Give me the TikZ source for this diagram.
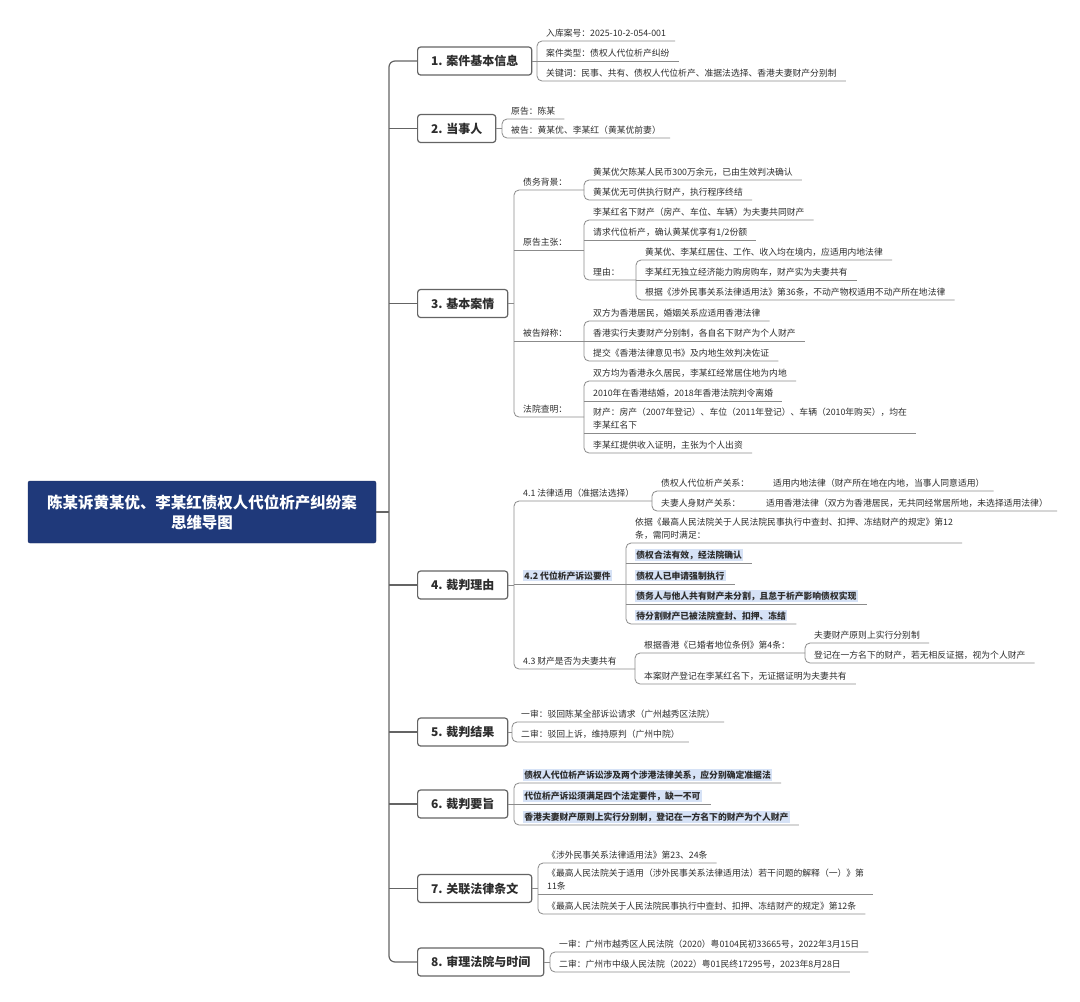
\documentclass[tikz,border=0pt]{standalone}
\usepackage{fontspec}
\setmainfont{Noto Sans CJK SC}
\usetikzlibrary{calc}
\definecolor{rootc}{RGB}{31,57,122}
\definecolor{linec}{RGB}{100,100,100}
\definecolor{txtc}{RGB}{45,45,45}
\definecolor{hlc}{RGB}{214,226,246}
\newcommand{\hl}[1]{{\setlength{\fboxsep}{1.2pt}\colorbox{hlc}{\bfseries #1}}}
\tikzset{root/.style={draw=rootc!80!black,fill=rootc,rounded corners=2pt,text=white,align=center,minimum width=348pt,minimum height=62pt,font=\fontsize{15.5}{20}\selectfont\bfseries},
 topic/.style={draw=linec,line width=1.2pt,fill=white,rounded corners=3pt,minimum height=28pt,inner xsep=13.5pt,anchor=west,text=txtc,font=\fontsize{12}{14}\selectfont\bfseries},
 lf/.style={anchor=south west,inner xsep=9pt,inner ysep=0pt,text depth=4.7pt,align=left,text=txtc,font=\fontsize{8.8}{12.5}\selectfont},
 ln/.style={draw=linec!75,line width=.8pt},br/.style={ln,rounded corners=5pt},
 trunk/.style={draw=linec,line width=1.2pt,rounded corners=6pt}}
\begin{document}
\begin{tikzpicture}[x=1pt,y=-1pt]
\useasboundingbox[fill=white] (0,0) rectangle (1080,1002);
\node[root] (root) at (202,512) {陈某诉黄某优、李某红债权人代位析产纠纷案\\思维导图};
\coordinate (tk) at (389,512);
\node[topic] (b1) at (417,61) {1. 案件基本信息};\node[topic] (b2) at (417,128.5) {2. 当事人};
\node[topic] (b3) at (417,303.5) {3. 基本案情};\node[topic] (b4) at (417,585) {4. 裁判理由};
\node[topic] (b5) at (417,732) {5. 裁判结果};\node[topic] (b6) at (417,804) {6. 裁判要旨};
\node[topic] (b7) at (417,888.5) {7. 关联法律条文};\node[topic] (b8) at (417,962) {8. 审理法院与时间};
\draw[trunk] (root.east) -- (tk);
\draw[trunk] (b1.west) -- (b1.west -| tk) -- (b8.west -| tk) -- (b8.west);
\foreach \i in {2,...,7} \draw[trunk] (b\i.west -| tk) -- (b\i.west);
% 1
\node[lf] (b1a) at (537,41) {入库案号：2025-10-2-054-001};
\node[lf] (b1b) at (537,61) {案件类型：债权人代位析产纠纷};
\node[lf] (b1c) at (537,81) {关键词：民事、共有、债权人代位析产、准据法选择、香港夫妻财产分别制};
\draw[ln] (b1.east) -- (b1.east -| b1a.south west);
\draw[br] (b1a.south east) -- (b1a.south west) -- (b1c.south west) -- (b1c.south east);
\draw[ln] (b1b.south west) -- (b1b.south east);
% 2
\node[lf] (b2a) at (502,119) {原告：陈某};
\node[lf] (b2b) at (502,138) {被告：黄某优、李某红（黄某优前妻）};
\draw[ln] (b2.east) -- (b2.east -| b2a.south west);
\draw[br] (b2a.south east) -- (b2a.south west) -- (b2b.south west) -- (b2b.south east);
% 3
\node[lf] (b3a) at (514,190) {债务背景：};\node[lf] (b3b) at (514,250) {原告主张：};
\node[lf] (b3c) at (514,341) {被告辩称：};\node[lf] (b3d) at (514,417) {法院查明：};
\node[lf] (b3a1) at (584,180) {黄某优欠陈某人民币300万余元，已由生效判决确认};
\node[lf] (b3a2) at (584,200) {黄某优无可供执行财产，执行程序终结};
\node[lf] (b3b1) at (584,220) {李某红名下财产（房产、车位、车辆）为夫妻共同财产};
\node[lf] (b3b2) at (584,240) {请求代位析产，确认黄某优享有1/2份额};
\node[lf] (b3b3) at (584,280) {理由：};
\node[lf] (b3r1) at (636,260) {黄某优、李某红居住、工作、收入均在境内，应适用内地法律};
\node[lf] (b3r2) at (636,280) {李某红无独立经济能力购房购车，财产实为夫妻共有};
\node[lf] (b3r3) at (636,300) {根据《涉外民事关系法律适用法》第36条，不动产物权适用不动产所在地法律};
\node[lf] (b3c1) at (584,321) {双方为香港居民，婚姻关系应适用香港法律};
\node[lf] (b3c2) at (584,341) {香港实行夫妻财产分别制，各自名下财产为个人财产};
\node[lf] (b3c3) at (584,361) {提交《香港法律意见书》及内地生效判决佐证};
\node[lf] (b3d1) at (584,381) {双方均为香港永久居民，李某红经常居住地为内地};
\node[lf] (b3d2) at (584,401) {2010年在香港结婚，2018年香港法院判令离婚};
\node[lf] (b3d3) at (584,433) {财产：房产（2007年登记）、车位（2011年登记）、车辆（2010年购买），均在\\李某红名下};
\node[lf] (b3d4) at (584,453) {李某红提供收入证明，主张为个人出资};
\draw[ln] (b3.east) -- (b3.east -| b3a.south west);
\draw[br] (b3a.south west -| b3a1.south west) -- (b3a.south west) -- (b3d.south west) -- (b3d.south west -| b3d1.south west);
\draw[ln] (b3b.south west) -- (b3b.south west -| b3b1.south west);
\draw[ln] (b3c.south west) -- (b3c.south west -| b3c1.south west);
\draw[br] (b3a1.south east) -- (b3a1.south west) -- (b3a2.south west) -- (b3a2.south east);
\draw[br] (b3b1.south east) -- (b3b1.south west) -- (b3b3.south west) -- (b3b3.south west -| b3r1.south west);
\draw[ln] (b3b2.south west) -- (b3b2.south east);
\draw[br] (b3r1.south east) -- (b3r1.south west) -- (b3r3.south west) -- (b3r3.south east);
\draw[ln] (b3r2.south west) -- (b3r2.south east);
\draw[br] (b3c1.south east) -- (b3c1.south west) -- (b3c3.south west) -- (b3c3.south east);
\draw[ln] (b3c2.south west) -- (b3c2.south east);
\draw[br] (b3d1.south east) -- (b3d1.south west) -- (b3d4.south west) -- (b3d4.south east);
\foreach \m in {b3d2,b3d3} \draw[ln] (\m.south west) -- (\m.south east);
% 4
\node[lf] (b4a) at (514,501) {4.1 法律适用（准据法选择）};
\node[lf] (b4b) at (514,584) {\hl{4.2 代位析产诉讼要件}};
\node[lf] (b4c) at (514,669) {4.3 财产是否为夫妻共有};
\node[lf] (b4a1) at (652,491) {债权人代位析产关系：};
\node[lf] (b4a1x) at (764,491) {适用内地法律（财产所在地在内地，当事人同意适用）};
\node[lf] (b4a2) at (652,511) {夫妻人身财产关系：};
\node[lf] (b4a2x) at (757,511) {适用香港法律（双方为香港居民，无共同经常居所地，未选择适用法律）};
\node[lf] (b4b1) at (626,543) {依据《最高人民法院关于人民法院民事执行中查封、扣押、冻结财产的规定》第12\\条，需同时满足：};
\node[lf] (b4b2) at (626,563) {\hl{债权合法有效，经法院确认}};
\node[lf] (b4b3) at (626,584) {\hl{债权人已申请强制执行}};
\node[lf] (b4b4) at (626,604) {\hl{债务人与他人共有财产未分割，且怠于析产影响债权实现}};
\node[lf] (b4b5) at (626,624) {\hl{待分割财产已被法院查封、扣押、冻结}};
\node[lf] (b4c1) at (635,653) {根据香港《已婚者地位条例》第4条：};
\node[lf] (b4c2) at (635,684) {本案财产登记在李某红名下，无证据证明为夫妻共有};
\node[lf] (b4c1a) at (805,643) {夫妻财产原则上实行分别制};
\node[lf] (b4c1b) at (805,663) {登记在一方名下的财产，若无相反证据，视为个人财产};
\draw[ln] (b4.east) -- (b4.east -| b4a.south west);
\draw[br] (b4a.south west -| b4a1.south west) -- (b4a.south west) -- (b4c.south west) -- (b4c.south west -| b4c1.south west);
\draw[ln] (b4b.south west) -- (b4b.south west -| b4b1.south west);
\draw[br] (b4a1x.south east) -- (b4a1.south west) -- (b4a2.south west) -- (b4a2x.south east);
\draw[br] (b4b1.south east) -- (b4b1.south west) -- (b4b5.south west) -- (b4b5.south east);
\foreach \m in {b4b2,b4b3,b4b4} \draw[ln] (\m.south west) -- (\m.south east);
\draw[br] (b4c1.south west -| b4c1a.south west) -- (b4c1.south west) -- (b4c2.south west) -- (b4c2.south east);
\draw[br] (b4c1a.south east) -- (b4c1a.south west) -- (b4c1b.south west) -- (b4c1b.south east);
% 5
\node[lf] (b5a) at (512,722) {一审：驳回陈某全部诉讼请求（广州越秀区法院）};
\node[lf] (b5b) at (512,742) {二审：驳回上诉，维持原判（广州中院）};
\draw[ln] (b5.east) -- (b5.east -| b5a.south west);
\draw[br] (b5a.south east) -- (b5a.south west) -- (b5b.south west) -- (b5b.south east);
% 6
\node[lf] (b6a) at (514,783) {\hl{债权人代位析产诉讼涉及两个涉港法律关系，应分别确定准据法}};
\node[lf] (b6b) at (514,804) {\hl{代位析产诉讼须满足四个法定要件，缺一不可}};
\node[lf] (b6c) at (514,825) {\hl{香港夫妻财产原则上实行分别制，登记在一方名下的财产为个人财产}};
\draw[ln] (b6.east) -- (b6.east -| b6a.south west);
\draw[br] (b6a.south east) -- (b6a.south west) -- (b6c.south west) -- (b6c.south east);
\draw[ln] (b6b.south west) -- (b6b.south east);
% 7
\node[lf] (b7a) at (538,863) {《涉外民事关系法律适用法》第23、24条};
\node[lf] (b7b) at (538,894) {《最高人民法院关于适用（涉外民事关系法律适用法）若干问题的解释（一）》第\\11条};
\node[lf] (b7c) at (538,914) {《最高人民法院关于人民法院民事执行中查封、扣押、冻结财产的规定》第12条};
\draw[ln] (b7.east) -- (b7.east -| b7a.south west);
\draw[br] (b7a.south east) -- (b7a.south west) -- (b7c.south west) -- (b7c.south east);
\draw[ln] (b7b.south west) -- (b7b.south east);
% 8
\node[lf] (b8a) at (550,952) {一审：广州市越秀区人民法院（2020）粤0104民初33665号，2022年3月15日};
\node[lf] (b8b) at (550,972) {二审：广州市中级人民法院（2022）粤01民终17295号，2023年8月28日};
\draw[ln] (b8.east) -- (b8.east -| b8a.south west);
\draw[br] (b8a.south east) -- (b8a.south west) -- (b8b.south west) -- (b8b.south east);
\end{tikzpicture}
\end{document}
